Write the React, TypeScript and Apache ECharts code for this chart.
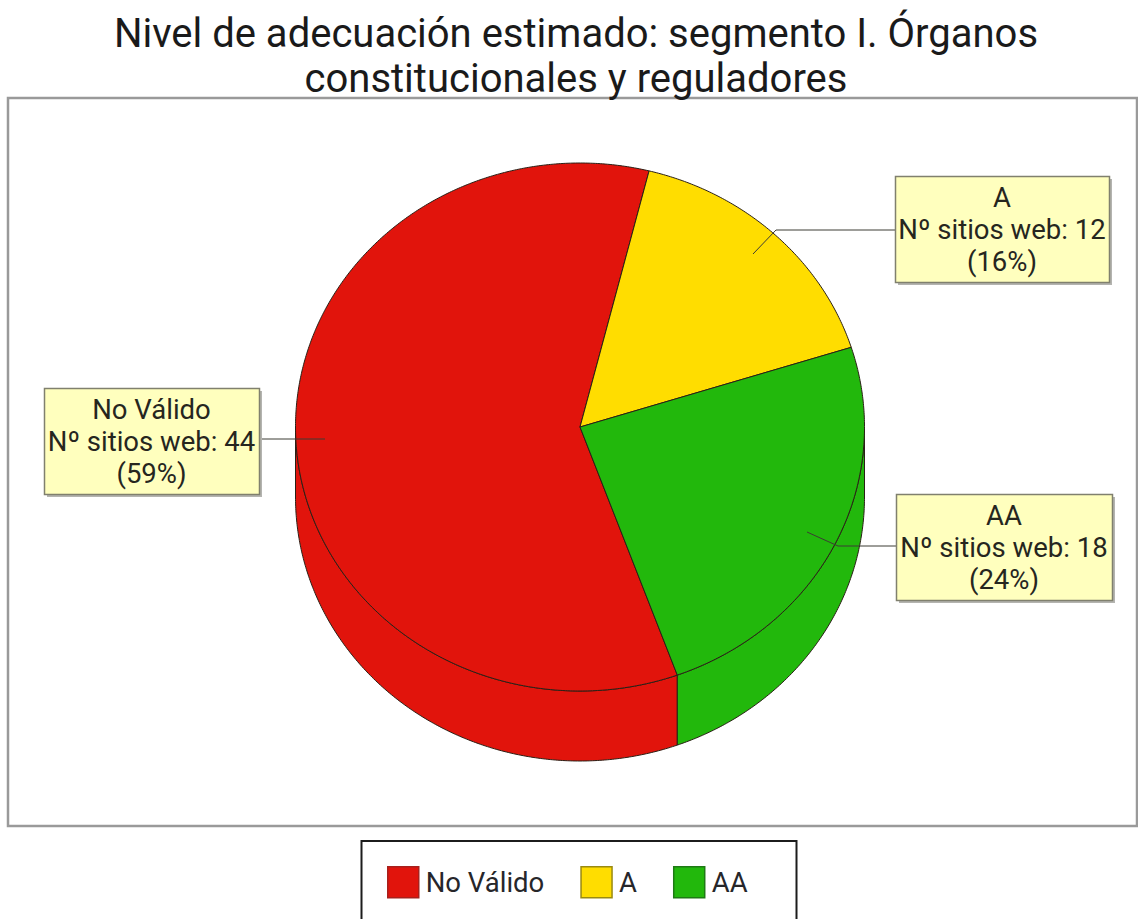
import React, { useEffect, useRef } from "react";
import * as echarts from "echarts";

const categories = ["No Válido", "A", "AA"];
const siteCounts = [44, 12, 18];
const percents = [59, 16, 24];
const sliceColors = ["#E1140C", "#FFDD00", "#22B80C"];
const legendBorders = ["#A8201C", "#9A8A10", "#1E7A14"];
const titleText = "Nivel de adecuación estimado: segmento I. Órganos\nconstitucionales y reguladores";
const countLabel = "Nº sitios web";

// layout of the tilted pie
const CX = 580;
const CY = 427;
const RX = 284.5;
const RY = 264;
const DEPTH = 70;
const START_DEG = 160; // clockwise from top
const OUTLINE = "#2a2016";

const labelBoxes = [
  { x: 44, y: 388, w: 215, h: 106, leader: [[325, 439], [259, 439]] },
  { x: 895, y: 176, w: 214, h: 106, leader: [[753, 254], [776, 230], [895, 230]] },
  { x: 896, y: 494, w: 216, h: 106, leader: [[807, 532], [838, 546], [896, 546]] },
];

const total = siteCounts.reduce((a, b) => a + b, 0);
const pt = (deg: number, dy = 0) => {
  const a = (deg * Math.PI) / 180;
  return [CX + RX * Math.sin(a), CY - RY * Math.cos(a) + dy];
};
const arc = (from: number, to: number, dy = 0) => {
  const out: number[][] = [];
  const n = Math.max(2, Math.ceil((to - from) / 0.5));
  for (let i = 0; i <= n; i++) out.push(pt(from + ((to - from) * i) / n, dy));
  return out;
};

const renderSlice = (seriesIndex: number) => (_params: any, api: any) => {
  const value = api.value(0);
  let before = 0;
  for (let i = 0; i < seriesIndex; i++) before += siteCounts[i];
  const from = START_DEG + (before / total) * 360;
  const to = from + (value / total) * 360;
  const style = { fill: sliceColors[seriesIndex], stroke: OUTLINE, lineWidth: 1 };
  const children: any[] = [];
  // visible side wall: the part of the rim facing the viewer, 90..270 degrees clockwise from top
  for (const k of [0, 1]) {
    const lo = Math.max(from, 90 + 360 * k);
    const hi = Math.min(to, 270 + 360 * k);
    if (hi > lo) {
      children.push({
        type: "polygon",
        shape: { points: [...arc(lo, hi), ...arc(lo, hi, DEPTH).reverse()] },
        style,
      });
    }
  }
  children.push({
    type: "polygon",
    shape: { points: [[CX, CY], ...arc(from, to)] },
    style,
  });
  return { type: "group", children };
};

const labelGraphics = categories.flatMap((name, i) => {
  const b = labelBoxes[i];
  return [
    {
      type: "polyline",
      z: 10,
      shape: { points: b.leader },
      style: { stroke: "#3c3c34", lineWidth: 1, fill: "none" },
    },
    {
      type: "rect",
      z: 10,
      shape: { x: b.x + 3, y: b.y + 3, width: b.w, height: b.h },
      style: { fill: "#b4b4b0", stroke: "none" },
    },
    {
      type: "rect",
      z: 11,
      shape: { x: b.x + 0.5, y: b.y + 0.5, width: b.w, height: b.h },
      style: { fill: "#FFFFBE", stroke: "#80806e", lineWidth: 1.5 },
    },
    {
      type: "text",
      z: 12,
      x: b.x + b.w / 2,
      y: b.y + b.h / 2,
      style: {
        text: `${name}\n${countLabel}: ${siteCounts[i]}\n(${percents[i]}%)`,
        fill: "#26261e",
        font: "27.5px Roboto",
        lineHeight: 32,
        align: "center",
        verticalAlign: "middle",
      },
    },
  ];
});

export default function App() {
  const ref = useRef<HTMLDivElement>(null);
  useEffect(() => {
    const chart = echarts.init(ref.current!, undefined, { renderer: "svg" });
    chart.setOption({
      animation: false,
      backgroundColor: "#ffffff",
      title: {
        text: titleText,
        left: 571,
        top: 6,
        textAlign: "center",
        textStyle: {
          fontFamily: "Roboto",
          fontSize: 40,
          fontWeight: "normal",
          color: "#1a1a1a",
          lineHeight: 45,
        },
      },
      legend: {
        left: 382,
        top: 861,
        padding: 5,
        orient: "horizontal",
        itemWidth: 31,
        itemHeight: 31,
        itemGap: 36,
        selectedMode: false,
        data: categories.map((name, i) => ({
          name,
          icon: "rect",
          itemStyle: { color: sliceColors[i], borderColor: legendBorders[i], borderWidth: 1.5 },
        })),
        textStyle: {
          fontFamily: "Roboto",
          fontSize: 27.5,
          color: "#26262a",
          padding: [0, 0, 0, 2],
        },
      },
      series: categories.map((name, i) => ({
        type: "custom",
        name,
        coordinateSystem: "none",
        z: 2,
        silent: true,
        data: [[siteCounts[i]]],
        encode: { value: 0 },
        itemStyle: { color: sliceColors[i] },
        renderItem: renderSlice(i),
      })),
      graphic: [
        {
          type: "rect",
          z: -1,
          shape: { x: 8, y: 98, width: 1129, height: 728 },
          style: { fill: "#ffffff", stroke: "#9a9a9a", lineWidth: 2.5 },
        },
        {
          type: "rect",
          z: -1,
          shape: { x: 361.5, y: 841, width: 435, height: 100 },
          style: { fill: "#ffffff", stroke: "#1c1c1c", lineWidth: 2 },
        },
        ...labelGraphics,
      ],
    });
    return () => chart.dispose();
  }, []);
  return (
    <div
      ref={ref}
      style={{ position: "fixed", left: 0, top: 0, width: 1138, height: 919 }}
    />
  );
}
